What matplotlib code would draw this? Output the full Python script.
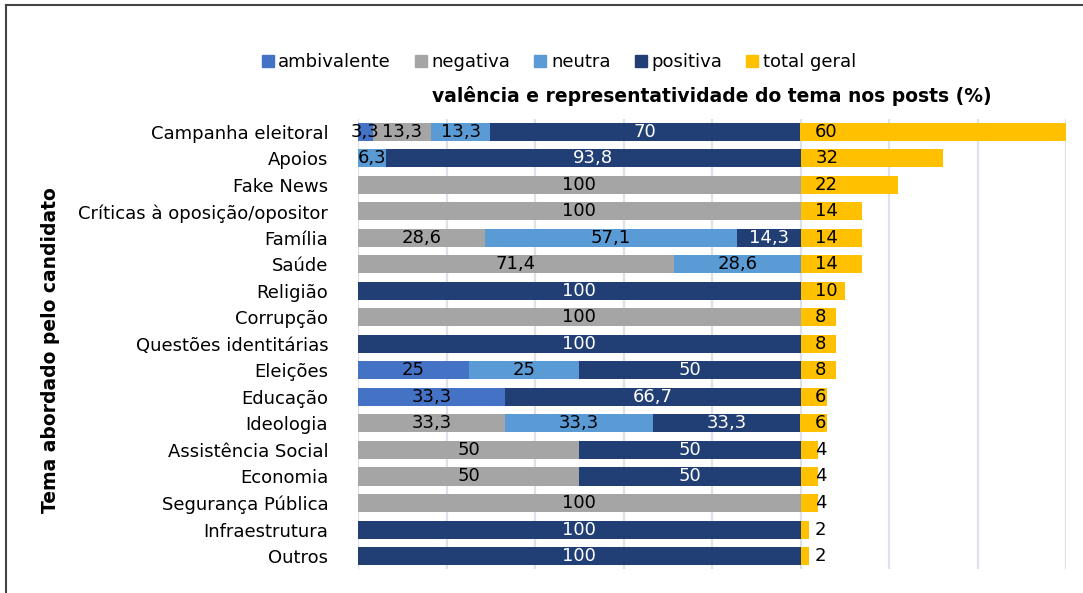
import numpy as np
import matplotlib
matplotlib.use('Agg')
import matplotlib.pyplot as plt
from matplotlib.lines import Line2D

temas = ['Campanha eleitoral', 'Apoios', 'Fake News', 'Críticas à oposição/opositor',
         'Família', 'Saúde', 'Religião', 'Corrupção', 'Questões identitárias',
         'Eleições', 'Educação', 'Ideologia', 'Assistência Social', 'Economia',
         'Segurança Pública', 'Infraestrutura', 'Outros']

ambivalente = [3.3, 0, 0, 0, 0, 0, 0, 0, 0, 25, 33.3, 0, 0, 0, 0, 0, 0]
negativa = [13.3, 0, 100, 100, 28.6, 71.4, 0, 100, 0, 0, 0, 33.3, 50, 50, 100, 0, 0]
neutra = [13.3, 6.3, 0, 0, 57.1, 28.6, 0, 0, 0, 25, 0, 33.3, 0, 0, 0, 0, 0]
positiva = [70, 93.8, 0, 0, 14.3, 0, 100, 0, 100, 50, 66.7, 33.3, 50, 50, 0, 100, 100]
total_geral = [60, 32, 22, 14, 14, 14, 10, 8, 8, 8, 6, 6, 4, 4, 4, 2, 2]

series = [('ambivalente', ambivalente, '#4472C4', 'black'),
          ('negativa', negativa, '#A5A5A5', 'black'),
          ('neutra', neutra, '#5B9BD5', 'black'),
          ('positiva', positiva, '#213F75', 'white')]

plt.rcParams['font.family'] = 'DejaVu Sans'

fig = plt.figure(figsize=(10.83, 5.93), dpi=100)
ax = fig.add_axes([0.3306, 0.04, 0.6537, 0.76])

y = np.arange(len(temas))
h = 0.68

def fmt(v):
    return ('%g' % v).replace('.', ',')

left = np.zeros(len(temas))
handles = []
for nome, vals, cor, tcor in series:
    vals = np.array(vals, dtype=float)
    ax.barh(y, vals, left=left, height=h, color=cor, zorder=2)
    for i, v in enumerate(vals):
        if v > 0:
            ax.text(left[i] + v / 2, y[i], fmt(v), ha='center', va='center',
                    fontsize=13, color=tcor, zorder=3)
    left = left + vals
    handles.append(Line2D([], [], marker='s', linestyle='', color=cor,
                          markersize=9, label=nome))

tot = np.array(total_geral, dtype=float)
ax.barh(y, tot, left=left, height=h, color='#FFC000', zorder=2)
for i, v in enumerate(tot):
    ax.text(left[i] + 3.3, y[i], fmt(v), ha='left', va='center',
            fontsize=13, color='black', zorder=3)
handles.append(Line2D([], [], marker='s', linestyle='', color='#FFC000',
                      markersize=9, label='total geral'))

ax.set_xlim(0, 160)
ax.set_ylim(len(temas) - 0.5, -0.5)
ax.set_xticks(np.arange(0, 161, 20))
ax.xaxis.grid(True, color='#DDE2EA', linewidth=1.6, zorder=0)
ax.set_axisbelow(True)
ax.tick_params(axis='x', bottom=False, labelbottom=False)
ax.tick_params(axis='y', left=False, labelsize=13, pad=18)
ax.set_yticks(y)
ax.set_yticklabels(temas)
for s in ax.spines.values():
    s.set_visible(False)

ax.set_title('valência e representatividade do tema nos posts (%)',
             fontsize=13.5, fontweight='bold', pad=12)
fig.text(0.047, 0.41, 'Tema abordado pelo candidato', rotation=90,
         ha='center', va='center', fontsize=13.5, fontweight='bold')

fig.legend(handles=handles, loc='center', bbox_to_anchor=(0.515, 0.895),
           ncol=5, frameon=False, fontsize=13, handletextpad=0.15,
           columnspacing=1.2, handlelength=0.9)

# moldura
fig.add_artist(Line2D([0.006, 0.006], [0, 0.992], color='#444444', linewidth=1.5,
                      transform=fig.transFigure))
fig.add_artist(Line2D([0.006, 1.0], [0.992, 0.992], color='#444444', linewidth=1.5,
                      transform=fig.transFigure))

fig.savefig('out.png', dpi=100)
